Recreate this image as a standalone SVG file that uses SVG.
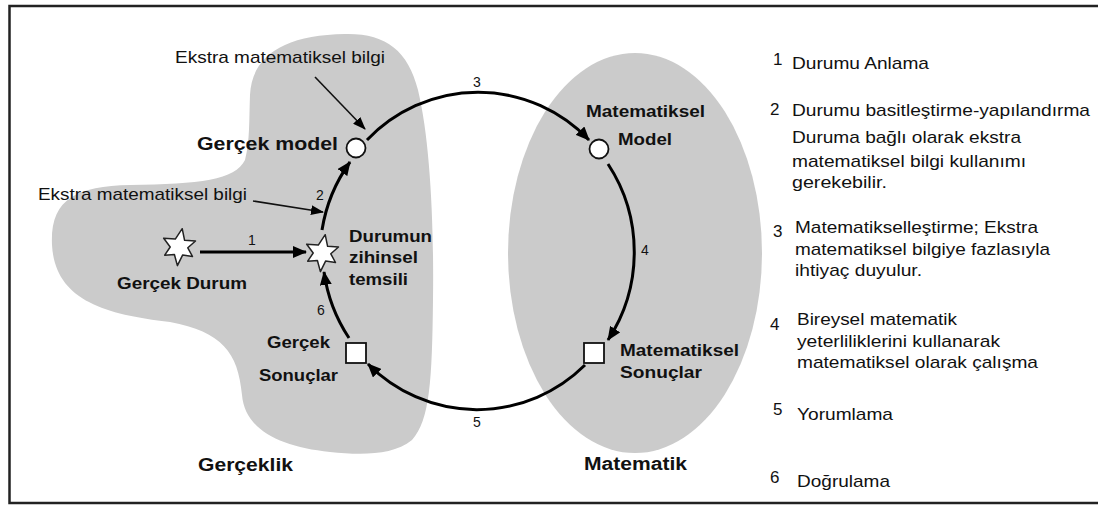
<svg xmlns="http://www.w3.org/2000/svg" width="1098" height="505" viewBox="0 0 1098 505">
<style>
.t{font-family:"Liberation Sans",Arial,sans-serif;fill:#111}
.b{font-weight:bold;font-size:17px}
.n{font-size:17px}
.s{font-size:14px}
.arc{fill:none;stroke:#000;stroke-width:3}
.thin{fill:none;stroke:#111;stroke-width:1.6}
.node{fill:#fff;stroke:#111;stroke-width:1.8}
.region{fill:#cbcbcb}
</style>
<defs>
<marker id="ah" viewBox="0 0 14 12" refX="13" refY="6" markerWidth="14" markerHeight="12" markerUnits="userSpaceOnUse" orient="auto">
<path d="M0,0 L14,6 L0,12 z" fill="#000"/>
</marker>
<marker id="ahs" viewBox="0 0 13 10" refX="12" refY="5" markerWidth="13" markerHeight="10" markerUnits="userSpaceOnUse" orient="auto">
<path d="M0,0 L13,5 L0,10 z" fill="#000"/>
</marker>
<polygon id="star" points="3.2,-18.3 5.6,-6.7 16.5,-6 8.8,0.8 13.5,9.5 3.7,7.9 -1.6,18.6 -4.6,7.5 -14.3,8.2 -8.8,0 -15.3,-8.8 -3.7,-7.9" fill="#fff" stroke="#222" stroke-width="1.5" stroke-linejoin="round"/>
</defs>
<rect x="0" y="0" width="1098" height="505" fill="#fff"/>
<rect x="9.5" y="6" width="1100" height="497" fill="none" stroke="#222" stroke-width="2.5"/>

<g id="regions">
<path id="gerceklik-region" class="region" d="M 250,95 C 252,55 285,35 345,34 C 385,33 408,50 418,90 C 430,140 434,220 433,300 C 432,380 430,420 412,440 C 392,456 360,455 330,452 C 280,447 245,430 242,395 C 238,352 222,332 170,322 C 100,314 55,298 52,245 C 50,200 75,186 130,185 C 200,184 235,180 245,160 C 250,140 249,120 250,95 Z"/>
<ellipse id="matematik-region" class="region" cx="635" cy="253" rx="127" ry="200"/>
</g>

<g id="connectors">
<path class="arc" d="M 367,140 A 155 158 0 0 1 589,140" marker-end="url(#ah)"/>
<path class="arc" d="M 608,164 A 155 158 0 0 1 608,340" marker-end="url(#ah)"/>
<path class="arc" d="M 585,365 A 155 158 0 0 1 368,364" marker-end="url(#ah)"/>
<path class="arc" d="M 349,338 A 155 158 0 0 1 324,272" marker-end="url(#ah)"/>
<path class="arc" d="M 322,230 A 155 158 0 0 1 350,162" marker-end="url(#ah)"/>
<path class="arc" d="M 200,252 L 306,252" marker-end="url(#ah)"/>
<path class="thin" d="M 315,77 L 365,129" marker-end="url(#ahs)"/>
<path class="thin" d="M 253,201 L 323,212" marker-end="url(#ahs)"/>
<text class="t s" x="477" y="87" text-anchor="middle">3</text>
<text class="t s" x="645" y="255" text-anchor="middle">4</text>
<text class="t s" x="477" y="427" text-anchor="middle">5</text>
<text class="t s" x="321" y="315" text-anchor="middle">6</text>
<text class="t s" x="320" y="200" text-anchor="middle">2</text>
<text class="t s" x="252" y="245" text-anchor="middle">1</text>
</g>

<g id="gercek-durum">
<use href="#star" transform="translate(179,247)"/>
<text class="t b" x="117" y="289" textLength="130" lengthAdjust="spacingAndGlyphs">Gerçek Durum</text>
</g>

<g id="durumun-zihinsel-temsili">
<use href="#star" transform="translate(322,253)"/>
<text class="t b" x="349" y="242" textLength="83" lengthAdjust="spacingAndGlyphs">Durumun</text>
<text class="t b" x="349" y="263" textLength="69" lengthAdjust="spacingAndGlyphs">zihinsel</text>
<text class="t b" x="349" y="285" textLength="59" lengthAdjust="spacingAndGlyphs">temsili</text>
</g>

<g id="gercek-model">
<circle class="node" cx="356" cy="148" r="9.5"/>
<text class="t b" x="197" y="150" style="font-size:18px" textLength="141" lengthAdjust="spacingAndGlyphs">Gerçek model</text>
</g>

<g id="ekstra-1">
<text class="t n" x="175" y="63" textLength="210" lengthAdjust="spacingAndGlyphs">Ekstra matematiksel bilgi</text>
</g>
<g id="ekstra-2">
<text class="t n" x="38" y="200" textLength="209" lengthAdjust="spacingAndGlyphs">Ekstra matematiksel bilgi</text>
</g>

<g id="matematiksel-model">
<circle class="node" cx="599" cy="149" r="9.5"/>
<text class="t b" x="586" y="117" textLength="119" lengthAdjust="spacingAndGlyphs">Matematiksel</text>
<text class="t b" x="618" y="145" textLength="54" lengthAdjust="spacingAndGlyphs">Model</text>
</g>

<g id="matematiksel-sonuclar">
<rect class="node" x="584" y="343" width="20" height="20" stroke-width="2"/>
<text class="t b" x="620" y="356" textLength="119" lengthAdjust="spacingAndGlyphs">Matematiksel</text>
<text class="t b" x="620" y="378" textLength="82" lengthAdjust="spacingAndGlyphs">Sonuçlar</text>
</g>

<g id="gercek-sonuclar">
<rect class="node" x="346" y="343" width="20" height="20" stroke-width="2"/>
<text class="t b" x="267" y="348" textLength="63" lengthAdjust="spacingAndGlyphs">Gerçek</text>
<text class="t b" x="259" y="381" textLength="79" lengthAdjust="spacingAndGlyphs">Sonuçlar</text>
</g>

<g id="region-labels">
<text class="t b" x="198" y="471" style="font-size:18px" textLength="95" lengthAdjust="spacingAndGlyphs">Gerçeklik</text>
<text class="t b" x="584" y="470" style="font-size:18px" textLength="103" lengthAdjust="spacingAndGlyphs">Matematik</text>
</g>

<g id="legend">
<text class="t n" x="773" y="65">1</text>
<text class="t n" x="792" y="69" textLength="137" lengthAdjust="spacingAndGlyphs">Durumu Anlama</text>
<text class="t n" x="770" y="115">2</text>
<text class="t n" x="792" y="116" textLength="298" lengthAdjust="spacingAndGlyphs">Durumu basitleştirme-yapılandırma</text>
<text class="t n" x="792" y="143" textLength="229" lengthAdjust="spacingAndGlyphs">Duruma bağlı olarak ekstra</text>
<text class="t n" x="792" y="167" textLength="234" lengthAdjust="spacingAndGlyphs">matematiksel bilgi kullanımı</text>
<text class="t n" x="792" y="188" textLength="95" lengthAdjust="spacingAndGlyphs">gerekebilir.</text>
<text class="t n" x="773" y="237">3</text>
<text class="t n" x="795" y="233" textLength="243" lengthAdjust="spacingAndGlyphs">Matematikselleştirme; Ekstra</text>
<text class="t n" x="795" y="255" textLength="255" lengthAdjust="spacingAndGlyphs">matematiksel bilgiye fazlasıyla</text>
<text class="t n" x="795" y="276" textLength="127" lengthAdjust="spacingAndGlyphs">ihtiyaç duyulur.</text>
<text class="t n" x="770" y="330">4</text>
<text class="t n" x="797" y="325" textLength="160" lengthAdjust="spacingAndGlyphs">Bireysel matematik</text>
<text class="t n" x="797" y="347" textLength="203" lengthAdjust="spacingAndGlyphs">yeterliliklerini kullanarak</text>
<text class="t n" x="797" y="368" textLength="241" lengthAdjust="spacingAndGlyphs">matematiksel olarak çalışma</text>
<text class="t n" x="773" y="415">5</text>
<text class="t n" x="797" y="420" textLength="96" lengthAdjust="spacingAndGlyphs">Yorumlama</text>
<text class="t n" x="770" y="483">6</text>
<text class="t n" x="797" y="487" textLength="93" lengthAdjust="spacingAndGlyphs">Doğrulama</text>
</g>
</svg>
